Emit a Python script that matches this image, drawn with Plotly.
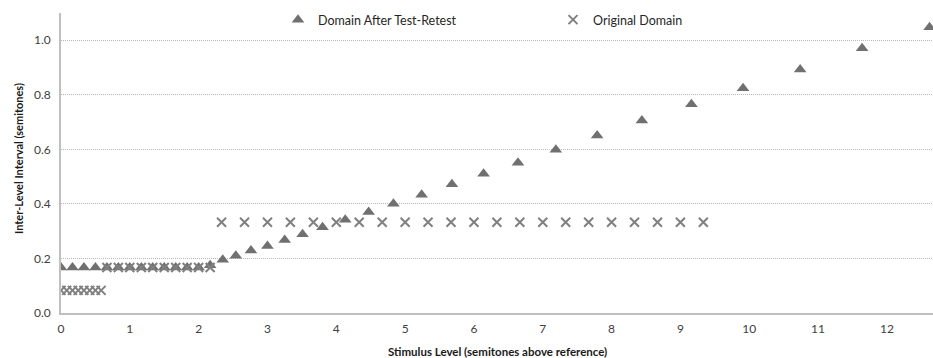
import plotly.graph_objects as go

# Domain After Test-Retest (triangles)
after_x = [0.0, 0.167, 0.333, 0.5, 0.667, 0.833, 1.0, 1.167, 1.333, 1.5, 1.667, 1.833, 2.0, 2.167,
           2.35, 2.54, 2.76, 3.0, 3.25, 3.51, 3.80, 4.13, 4.47, 4.83, 5.24, 5.68, 6.14,
           6.64, 7.19, 7.79, 8.44, 9.16, 9.91, 10.74, 11.64, 12.62]
after_y = [0.167, 0.167, 0.167, 0.167, 0.167, 0.167, 0.167, 0.167, 0.167, 0.167, 0.167, 0.167, 0.167, 0.175,
           0.195, 0.210, 0.229, 0.246, 0.268, 0.289, 0.314, 0.342, 0.370, 0.401, 0.434, 0.472, 0.511,
           0.551, 0.599, 0.651, 0.706, 0.765, 0.824, 0.893, 0.971, 1.048]

# Original Domain (crosses)
orig_x = [0.0, 0.083, 0.167, 0.25, 0.333, 0.417, 0.5, 0.583,
          0.667, 0.833, 1.0, 1.167, 1.333, 1.5, 1.667, 1.833, 2.0, 2.167,
          2.333, 2.667, 3.0, 3.333, 3.667, 4.0, 4.333, 4.667, 5.0, 5.333, 5.667,
          6.0, 6.333, 6.667, 7.0, 7.333, 7.667, 8.0, 8.333, 8.667, 9.0, 9.333]
orig_y = [0.083, 0.083, 0.083, 0.083, 0.083, 0.083, 0.083, 0.083,
          0.167, 0.167, 0.167, 0.167, 0.167, 0.167, 0.167, 0.167, 0.167, 0.167,
          0.333, 0.333, 0.333, 0.333, 0.333, 0.333, 0.333, 0.333, 0.333, 0.333, 0.333,
          0.333, 0.333, 0.333, 0.333, 0.333, 0.333, 0.333, 0.333, 0.333, 0.333, 0.333]

x_ticks = list(range(0, 13))
y_ticks = [0.0, 0.2, 0.4, 0.6, 0.8, 1.0]

FONT = "Lato"
PLOT_H = 300  # 313 - 13
PLOT_W = 872  # 933 - 61

fig = go.Figure()
fig.add_trace(go.Scatter(
    x=after_x, y=after_y, mode="markers", name="Domain After Test-Retest",
    marker=dict(symbol="triangle-up", size=11, color="#707070", line=dict(width=0)),
    legend="legend", cliponaxis=True,
))
fig.add_trace(go.Scatter(
    x=orig_x, y=orig_y, mode="markers", name="Original Domain",
    marker=dict(symbol="x-thin", size=9, color="#808080", line=dict(width=2, color="#808080")),
    legend="legend2", cliponaxis=True,
))

leg_y = (313 - 20) / PLOT_H
fig.update_layout(
    width=933, height=358,
    margin=dict(l=61, r=0, t=13, b=45, autoexpand=False),
    paper_bgcolor="white", plot_bgcolor="white",
    font=dict(family=FONT, size=12, color="#404040"),
    showlegend=True,
    legend=dict(orientation="h", x=(278 - 61) / PLOT_W, xanchor="left",
                y=leg_y, yanchor="middle",
                font=dict(family=FONT, size=12.5, color="#262626"),
                bgcolor="rgba(0,0,0,0)", itemwidth=30),
    legend2=dict(orientation="h", x=(553 - 61) / PLOT_W, xanchor="left",
                 y=leg_y, yanchor="middle",
                 font=dict(family=FONT, size=12.5, color="#262626"),
                 bgcolor="rgba(0,0,0,0)", itemwidth=30),
    xaxis=dict(range=[0, 12.67], tickmode="array", tickvals=x_ticks,
               ticktext=[str(v) for v in x_ticks],
               showgrid=False, zeroline=False, showline=True, linecolor="#bfbfbf", linewidth=1.5,
               ticks="", ticklen=0, ticklabelstandoff=4,
               tickfont=dict(size=12, color="#404040")),
    yaxis=dict(range=[0, 1.1], tickmode="array", tickvals=y_ticks,
               ticktext=["%.1f" % v for v in y_ticks],
               showgrid=True, gridcolor="#b8b8b8", griddash="1px,1px", gridwidth=1,
               zeroline=False, showline=True, linecolor="#bfbfbf", linewidth=1.5,
               ticks="", ticklen=0, ticklabelstandoff=6,
               tickfont=dict(size=12, color="#404040")),
    annotations=[
        dict(text="<b>Stimulus Level (semitones above reference)</b>", xref="paper", yref="paper",
             x=(498 - 61) / PLOT_W, y=-(352 - 313) / PLOT_H, xanchor="center", yanchor="middle",
             showarrow=False, font=dict(family=FONT, size=11.5, color="#1a1a1a")),
        dict(text="<b>Inter-Level Interval (semitones)</b>", xref="paper", yref="paper",
             x=-(61 - 18) / PLOT_W, y=(313 - 159) / PLOT_H, xanchor="center", yanchor="middle",
             textangle=-90, showarrow=False, font=dict(family=FONT, size=11, color="#1a1a1a")),
    ],
)

fig.write_html("out.html")
